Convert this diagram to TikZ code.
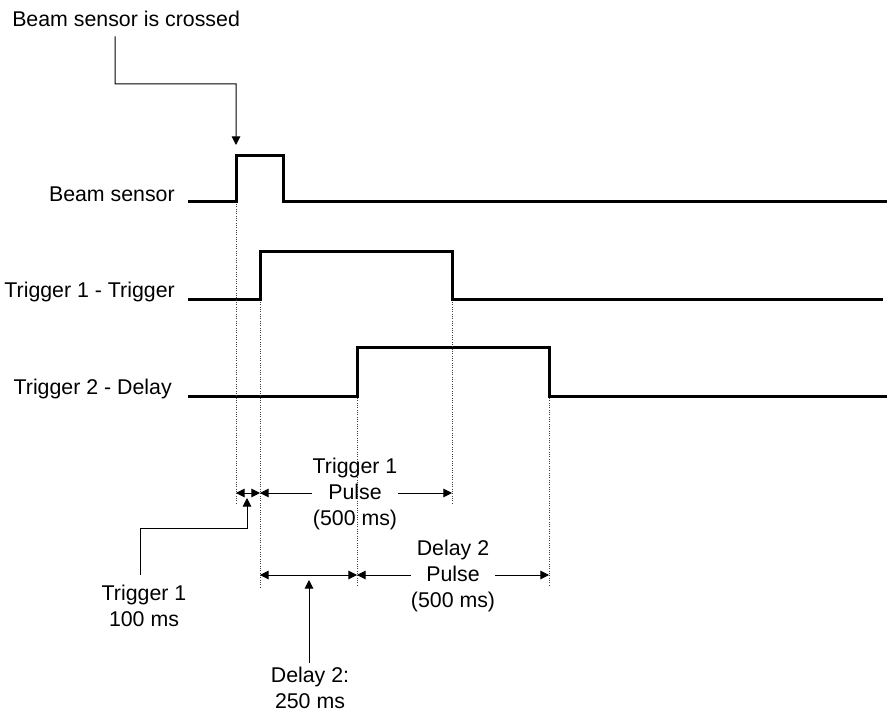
\documentclass[tikz,border=0pt]{standalone}
\usepackage{fontspec}
\setmainfont{Liberation Sans}
\usetikzlibrary{arrows.meta}
\begin{document}
\begin{tikzpicture}[x=0.75pt,y=-0.75pt,
  lbl/.style={font=\fontsize{16}{19.5}\selectfont, inner sep=0pt, align=center},
  lblone/.style={font=\fontsize{16}{19.5}\selectfont, inner sep=0pt},
  sig/.style={line width=2.25pt, line join=miter},
  guide/.style={densely dotted, line width=0.75pt, black!75},
  thin/.style={line width=0.75pt},
  tip/.style={-{Triangle[length=6.5pt,width=6.5pt]}},
  dbl/.style={{Triangle[length=6.5pt,width=6.5pt]}-{Triangle[length=6.5pt,width=6.5pt]}},
]
\useasboundingbox[fill=white] (0,0) rectangle (887,712);

% signals
\draw[sig] (188,202) -- (236,202) -- (236,156) -- (283,156) -- (283,202) -- (887,202);
\draw[sig] (188,300) -- (260,300) -- (260,252) -- (452,252) -- (452,300) -- (883,300);
\draw[sig] (188,396) -- (357,396) -- (357,347) -- (549,347) -- (549,396) -- (887,396);

% guides
\draw[guide] (236,204) -- (236,503);
\draw[guide] (260,302) -- (260,587);
\draw[guide] (357,398) -- (357,587);
\draw[guide] (452,302) -- (452,503);
\draw[guide] (549,398) -- (549,587);

% signal labels
\node[lblone, anchor=base east] (lb1) at (175,202) {Beam sensor};
\node[lblone, anchor=base east] (lb2) at (175,298) {Trigger 1 - Trigger};
\node[lblone, anchor=base east] (lb3) at (172,394) {Trigger 2 - Delay};

% beam sensor crossed callout
\node[lblone, anchor=base west] (cr) at (12,27) {Beam sensor is crossed};
\coordinate (cr1) at (115,84);
\coordinate (crtip) at (236,145);
\draw[thin, tip] ([shift={(-8.25pt,-6.75pt)}]cr.south) -- (cr1) -| (crtip);

% row 1 dimension arrows
\coordinate (a1L) at (260,493);
\coordinate (a1R) at (452,493);
\coordinate (a0L) at (236,493);
\draw[thin, dbl] (a0L) -- (a1L);
\node[lbl] (p1) at (355,494) {Trigger 1\\Pulse\\(500 ms)};
\draw[thin, tip] (p1.west |- a1L) -- (a1L);
\draw[thin, tip] (p1.east |- a1R) -- (a1R);

% row 2 dimension arrows
\coordinate (a2L) at (260,575);
\coordinate (a2M) at (357,575);
\coordinate (a2R) at (549,575);
\draw[thin, dbl] (a2L) -- (a2M);
\node[lbl] (p2) at (453,576) {Delay 2\\Pulse\\(500 ms)};
\draw[thin, tip] (p2.west |- a2M) -- (a2M);
\draw[thin, tip] (p2.east |- a2R) -- (a2R);

% Trigger 1 100 ms callout
\node[lbl, anchor=north] (c1) at (144,585) {Trigger 1\\100 ms};
\coordinate (c1k) at (247,528);
\coordinate (c1t) at (247,498);
\draw[thin, tip] ([shift={(-3pt,7.5pt)}]c1.north) |- (c1k) -- (c1t);

% Delay 2 callout
\node[lbl, anchor=north] (c2) at (310,667) {Delay 2:\\250 ms};
\coordinate (c2t) at (309,580);
\draw[thin, tip] ([shift={(-0.75pt,3pt)}]c2.north) -- (c2t);
\end{tikzpicture}
\end{document}
